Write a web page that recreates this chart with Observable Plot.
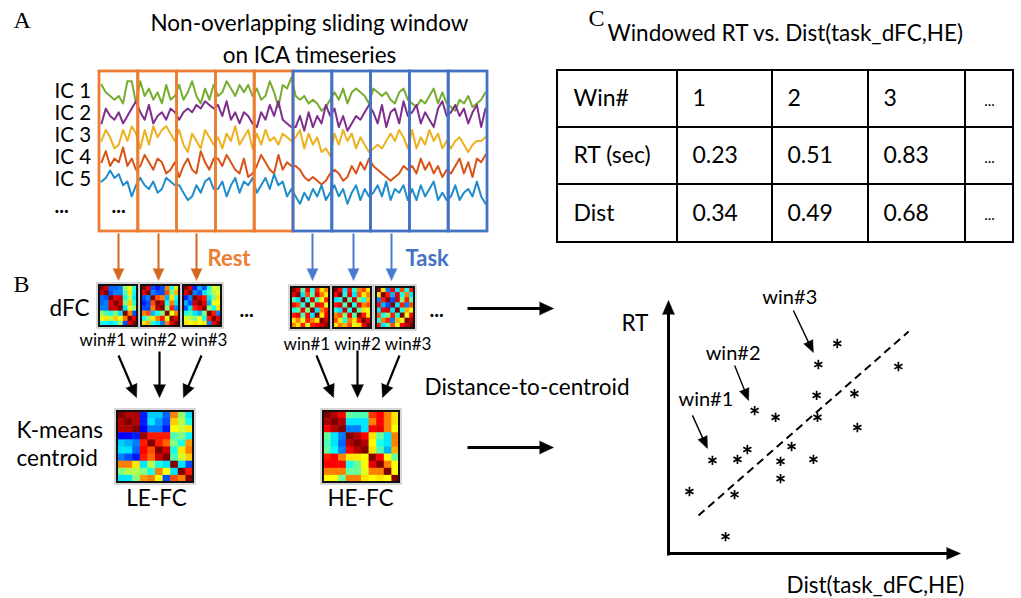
<!DOCTYPE html>
<html><head><meta charset="utf-8">
<script src="https://cdn.jsdelivr.net/npm/d3@7"></script>
<script src="https://cdn.jsdelivr.net/npm/@observablehq/plot@0.6"></script>
<style>html,body{margin:0;padding:0;background:#fff}#chart svg{display:block}</style>
</head><body><div id="chart"></div>
<script>
// ================= DATA =================
const panelLetters = ["A", "B", "C"];
const titleA = ["Non-overlapping sliding window", "on ICA timeseries"];
const icLabels = ["IC 1", "IC 2", "IC 3", "IC 4", "IC 5"];
const icColors = ["#77AC30", "#7E2F8E", "#EDB120", "#D95319", "#1F8CCB"];
// windowed IC timeseries (10 windows x 9 samples, arbitrary signal units 0-10)
const ic1 = [8,6,5,4,5,3,9,9,3, 9,5,7,4,6,3,8,4,5, 8,4,6,9,5,3,7,4,8, 5,6,9,7,5,8,6,8,5, 7,4,5,9,6,2,8,7,10,
             5,4,5,3,4,3,1,2,4, 6,4,7,3,6,7,6,5,3, 7,6,5,6,4,3,6,7,4, 3,2,4,3,5,7,3,6,3, 2,1,4,3,5,2,3,4,6];
const ic2 = [3,7,5,4,6,3,5,7,9, 6,4,8,3,5,6,4,7,6, 4,6,7,6,8,7,9,8,7, 8,5,9,4,6,3,6,5,3, 2,6,4,8,5,9,4,3,2,
             2,5,1,6,2,5,3,8,5, 7,2,5,1,3,5,4,6,8, 6,3,8,2,6,7,3,9,5, 6,8,3,6,4,2,7,9,5, 6,8,5,7,3,6,8,2,7];
const ic3 = [5,8,6,3,4,8,5,9,7, 3,8,4,9,6,8,9,7,5, 8,4,2,7,5,3,8,6,4, 6,3,7,5,9,4,6,8,3, 7,4,8,5,6,4,7,6,5,
             6,8,3,7,4,6,2,3,1, 7,4,8,5,7,3,6,4,2, 3,4,3,5,7,5,8,6,3, 8,3,6,4,8,5,7,3,5, 3,5,6,4,2,4,5,5,6];
const ic4 = [6,9,5,7,6,10,5,7,4, 5,8,6,4,7,6,3,4,6, 2,5,7,4,3,9,6,4,7, 7,5,8,6,4,3,7,2,3, 5,8,6,4,3,8,4,6,5,
             5,4,2,1,2,1,0,1,3, 4,3,1,2,5,3,6,4,7, 5,4,3,2,1,2,3,5,4, 5,3,7,4,6,3,5,2,4, 3,5,7,3,6,2,7,6,8];
const ic5 = [7,8,10,8,9,6,7,3,6, 8,6,5,7,4,5,8,7,6, 6,4,2,3,6,4,7,8,5, 5,7,3,6,8,4,7,6,8, 4,6,8,5,9,6,7,3,5,
             3,1,4,2,5,3,6,2,4, 6,3,5,1,4,6,2,5,3, 4,6,3,7,2,5,4,6,2, 5,2,6,3,5,7,2,4,2, 3,6,2,4,5,3,7,3,1];
const icSeries = [ic1, ic2, ic3, ic4, ic5];
const windowPhase = ["Rest","Rest","Rest","Rest","Rest","Task","Task","Task","Task","Task"];
const phaseNames = ["Rest", "Task"];
const winLabels = ["win#1", "win#2", "win#3"];

// dFC matrices (correlation values, -1..1)
const dfcRest1 = [[1,.85,-.55,-.55,-.5,.05,.2,-.2],[.85,1,-.6,-.5,-.5,-.1,.3,-.25],[-.55,-.6,1,.8,.85,-.2,.1,-.3],[-.55,-.5,.8,1,.85,0,.35,-.2],
                  [-.5,-.5,.85,.85,1,-.3,.2,.05],[.05,-.1,-.2,0,-.3,1,.5,-.6],[.2,.3,.1,.35,.2,.5,1,.8],[-.2,-.25,-.3,-.2,.05,-.6,.8,1]];
const dfcRest2 = [[1,.8,-.6,-.7,-.6,.5,-.2,.3],[.8,1,-.5,-.6,-.6,.6,0,.4],[-.6,-.5,1,.6,.5,-.4,.3,-.2],[-.7,-.6,.6,1,.9,-.2,.5,-.3],
                  [-.6,-.6,.5,.9,1,0,.7,-.5],[.5,.6,-.4,-.2,0,1,.2,.5],[-.2,0,.3,.5,.7,.2,1,.8],[.3,.4,-.2,-.3,-.5,.5,.8,1]];
const dfcRest3 = [[1,.8,-.7,-.4,-.6,-.2,.2,.1],[.8,1,-.5,-.6,-.3,-.1,.1,.2],[-.7,-.5,1,.85,.7,-.3,0,.3],[-.4,-.6,.85,1,.8,-.4,.2,.25],
                  [-.6,-.3,.7,.8,1,0,-.2,.3],[-.2,-.1,-.3,-.4,0,1,.7,-.5],[.2,.1,0,.2,-.2,.7,1,.8],[.3,.25,.3,.25,.3,-.5,.8,1]];
const dfcTask1 = [[1,.8,-.1,.75,-.2,.7,.3,.5],[.8,1,-.3,.6,-.1,.8,.5,.3],[-.1,-.3,1,-.2,.8,-.1,.2,.7],[.75,.6,-.2,1,0,.75,.7,.2],
                  [-.2,-.1,.8,0,1,-.3,.5,.7],[.7,.8,-.1,.75,-.3,1,.3,.75],[.3,.5,.2,.7,.5,.3,1,.85],[.5,.3,.7,.2,.7,.75,.85,1]];
const dfcTask2 = [[1,.75,-.3,.7,-.2,.5,.6,.3],[.75,1,-.2,.8,-.3,.6,.3,.5],[-.3,-.2,1,-.1,.85,0,-.2,.4],[.7,.8,-.1,1,-.2,.8,.5,.6],
                  [-.2,-.3,.85,-.2,1,-.1,.3,.2],[.5,.6,0,.8,-.1,1,.7,.3],[.6,.3,-.2,.5,.3,.7,1,.8],[.3,.5,.4,.6,.2,.3,.8,1]];
const dfcTask3 = [[1,.3,-.5,.75,-.3,.6,-.2,.7],[.3,1,.7,-.4,.8,-.2,.5,-.3],[-.5,.7,1,-.6,.85,0,.7,-.1],[.75,-.4,-.6,1,-.3,.7,-.5,.6],
                  [-.3,.8,.85,-.3,1,-.2,.4,.2],[.6,-.2,0,.7,-.2,1,.2,.75],[-.2,.5,.7,-.5,.4,.2,1,.9],[.7,-.3,-.1,.6,.2,.75,.9,1]];
// K-means centroids (10 x 10)
const leFC = [[1,.9,.9,-.7,-.35,-.35,-.55,.5,.05,-.3],[.9,1,.9,-.7,-.3,-.45,-.6,.35,.1,-.2],[.9,.9,1,-.75,-.5,-.5,-.7,.25,.15,.3],
              [-.75,-.75,-.7,.95,.7,.7,.7,-.1,0,-.25],[-.35,-.4,-.5,.7,1,.7,.55,0,-.2,.45],[-.3,-.3,-.55,.75,.6,1,.85,-.2,.3,.5],
              [-.5,-.6,-.7,.7,.55,.85,1,-.1,.15,.35],[.5,.5,.3,-.3,.1,-.2,-.3,1,-.3,-.6],[0,.1,.1,0,-.2,.5,.25,-.3,1,.7],
              [-.3,-.3,0,.45,.5,.25,-.6,.6,.5,1]];
const heFC = [[1,.9,.75,-.05,-.1,-.1,.65,.75,.5,.3],[.9,1,.9,-.3,-.3,-.3,.5,.75,.5,.3],[.75,.9,1,-.5,-.5,-.3,.75,.8,.5,.25],
              [-.05,-.3,-.5,1,.9,.75,.3,-.05,-.3,.5],[-.1,-.3,-.55,.9,1,.9,.25,-.2,-.3,.5],[-.05,-.25,-.5,.75,.9,1,.3,-.1,-.4,.4],
              [.7,.75,.5,.3,.3,.25,1,.75,.25,-.05],[.75,.75,.75,-.2,-.05,.25,.8,1,.5,.25],[.5,.5,.5,-.05,-.05,.2,.5,.5,1,.25],
              [.25,.25,-.05,.5,.5,.3,.25,.3,.25,1]];
const centroidNames = ["LE-FC", "HE-FC"];

// Table (panel C)
const titleC = "Windowed RT vs. Dist(task_dFC,HE)";
const tableRowLabels = ["Win#", "RT (sec)", "Dist"];
const tableWins = ["1", "2", "3", "..."];
const tableRT = [0.23, 0.51, 0.83];
const tableDist = [0.34, 0.49, 0.68];

// Scatter (panel C) – Dist vs RT, normalised units
const scatterDist = [0.58,0.515,0.79,0.509,0.639,0.296,0.368,0.512,0.649,0.423,0.271,0.237,0.151,0.385,0.498,0.385,0.072,0.227,0.196];
const scatterRT   = [0.83,0.747,0.739,0.625,0.632,0.565,0.538,0.538,0.498,0.423,0.411,0.372,0.368,0.364,0.372,0.296,0.245,0.233,0.067];
const fitDist = [0.103, 0.825];
const fitRT = [0.150, 0.877];
const scatterWinIndex = [12, 5, 1]; // win#1, win#2, win#3 points

// ================= LAYOUT =================
const W = 1021, H = 598;
const ORANGE = "#ED7D31", BLUE = "#4472C4", ORANGE_ARROW = "#D2691F", BLUE_ARROW = "#4A7BD0";
const FONT = "Lato", SERIF = "Liberation Serif";
const FS = 22.5;

// timeseries geometry
const tsX0 = 101, tsX1 = 485, tsK = 3.7;
const icBase = [114, 134, 159, 184, 207];
const icLabelY = [91, 113, 135, 157, 179];
const winX0 = 99, winX1 = 487, winTop = 71, winBottom = 231;
const nWin = windowPhase.length, winW = (winX1 - winX0) / nWin;
const nPts = ic1.length;
const tsRows = icSeries.map((s, k) => s.map((v, i) => ({
  x: tsX0 + i * (tsX1 - tsX0) / (nPts - 1), y: icBase[k] - v * tsK
})));
const windows = windowPhase.map((p, i) => ({phase: p, x1: winX0 + i * winW, x2: winX0 + (i + 1) * winW, y1: winTop, y2: winBottom}));

// matrices
function cellsOf(M, x0, y0, w, h) {
  const n = M.length, cw = w / n, ch = h / n, out = [];
  M.forEach((row, i) => row.forEach((v, j) => out.push({
    x1: x0 + j * cw, x2: x0 + (j + 1) * cw + (j < n - 1 ? 0.5 : 0),
    y1: y0 + i * ch, y2: y0 + (i + 1) * ch + (i < n - 1 ? 0.5 : 0), v})));
  return out;
}
const mats = [
  {M: dfcRest1, x: 99, y: 285, w: 38, h: 41}, {M: dfcRest2, x: 141, y: 285, w: 38, h: 41}, {M: dfcRest3, x: 183, y: 285, w: 38, h: 41},
  {M: dfcTask1, x: 291, y: 287, w: 38, h: 41}, {M: dfcTask2, x: 333, y: 287, w: 38, h: 41}, {M: dfcTask3, x: 376, y: 287, w: 38, h: 41},
  {M: leFC, x: 117, y: 411, w: 76, h: 71}, {M: heFC, x: 323, y: 411, w: 76, h: 71}
];
const cells = mats.flatMap(m => cellsOf(m.M, m.x, m.y, m.w, m.h));
const frames = mats.map(m => ({x1: m.x, x2: m.x + m.w, y1: m.y, y2: m.y + m.h}));
const framesOuter = frames.map(f => ({x1: f.x1 - 2, x2: f.x2 + 2, y1: f.y1 - 2, y2: f.y2 + 2}));

// arrows
function arrow(x1, y1, x2, y2) { return {x1, y1, x2, y2}; }
function arrowMarks(list, color, sw, len, half) {
  const rows = list.map(a => {
    const dx = a.x2 - a.x1, dy = a.y2 - a.y1, L = Math.hypot(dx, dy);
    return {...a, bx: a.x2 - dx / L * (len - 1), by: a.y2 - dy / L * (len - 1), rot: Math.atan2(dx, -dy) * 180 / Math.PI};
  });
  return [
    Plot.link(rows, {x1: "x1", y1: "y1", x2: "bx", y2: "by", stroke: color, strokeWidth: sw}),
    Plot.vector(rows, {x: "x2", y: "y2", rotate: "rot", length: len, r: half, shape: "spike", anchor: "end", fill: color, stroke: color, strokeWidth: 0.5})
  ];
}
const restArrowX = [118, 158, 196], taskArrowX = [312, 353, 391];
const restArrows = restArrowX.map(x => arrow(x, 233, x, 280));
const taskArrows = taskArrowX.map(x => arrow(x, 233, x, 280));
const blackArrows = [
  arrow(118, 355, 136, 397), arrow(159, 351, 159, 397), arrow(201, 355, 183, 397),
  arrow(316, 355, 333, 397), arrow(357, 350, 357, 397), arrow(399, 355, 382, 397)
];
const rightArrows = [arrow(467, 308, 553, 308), arrow(467, 447, 553, 447)];

// scatter geometry
const sx = d3.scaleLinear([0, 1], [668, 959]);
const sy = d3.scaleLinear([0, 1], [553, 300]);
const pts = scatterDist.map((d, i) => ({x: sx(d), y: sy(scatterRT[i])}));
const axisArrows = [arrow(668, 555, 668, 300), arrow(666.5, 553, 960, 553)];
// [tip dx, tip dy, tail dx, tail dy (from tip), label dx, label dy] relative to the point
const labelOffsets = [[-5, -12, -15, -33, -34, -61], [-6, -10, -14, -35, -49, -57], [-5, -12, -20, -42, -56, -67]];
const winArrows = scatterWinIndex.map((idx, k) => {
  const p = pts[idx], o = labelOffsets[k];
  return arrow(p.x + o[0] + o[2], p.y + o[1] + o[3], p.x + o[0], p.y + o[1]);
});
const winLabelPos = scatterWinIndex.map((idx, k) => {
  const p = pts[idx], o = labelOffsets[k];
  return {x: p.x + o[4], y: p.y + o[5], t: winLabels[k]};
});

// table geometry
const colX = [557, 677, 772, 868, 965, 1013];
const rowY = [70, 127, 184, 242];
const tableCells = [];
for (let r = 0; r < 3; r++) for (let c = 0; c < 5; c++) tableCells.push({x1: colX[c], x2: colX[c + 1], y1: rowY[r], y2: rowY[r + 1]});
const tableText = [];
tableRowLabels.forEach((t, r) => tableText.push({x: colX[0] + 16, y: (rowY[r] + rowY[r + 1]) / 2, t}));
const rowsVals = [tableWins.slice(0, 3), tableRT.map(v => v.toFixed(2)), tableDist.map(v => v.toFixed(2))];
rowsVals.forEach((vals, r) => vals.forEach((t, c) => tableText.push({x: colX[c + 1] + 15, y: (rowY[r] + rowY[r + 1]) / 2, t})));
const tableDots = [0, 1, 2].map(r => ({x: (colX[4] + colX[5]) / 2, y: (rowY[r] + rowY[r + 1]) / 2 + 2, t: tableWins[3]}));

// text blocks
const T = (x, y, t, o = {}) => ({x, y, t, ...o});
const textsLeft = [
  T(49, 308, "dFC"), T(16, 430, "K-means"), T(16, 458, "centroid"),
  T(424, 387, "Distance-to-centroid"), T(607, 33, titleC), T(621, 323, "RT"), T(786, 585, "Dist(task_dFC,HE)")
];
const icText = icLabels.map((t, i) => T(54, icLabelY[i], t));
const textsCenter = [
  T(309, 23, titleA[0]), T(309, 55, titleA[1]),
  T(156, 498, centroidNames[0]), T(360, 498, centroidNames[1])
];
const dots = [T(61, 206, "..."), T(118, 206, "..."), T(246, 310, "..."), T(436, 310, "...")];
const phaseText = [T(207, 258, phaseNames[0], {c: ORANGE}), T(405, 258, phaseNames[1], {c: BLUE})];
const winTexts = [T(153, 340, winLabels.join(" ")), T(357, 344, winLabels.join(" "))];
const letterPos = [T(13, 20, panelLetters[0]), T(13, 284, panelLetters[1]), T(588, 18, panelLetters[2])];

// ================= PLOT =================
const chart = Plot.plot({
  width: W, height: H, margin: 0,
  x: {domain: [0, W], range: [0, W], axis: null},
  y: {domain: [0, H], range: [0, H], axis: null},
  color: {type: "linear", domain: [-1, -0.75, -0.25, 0.25, 0.75, 1],
          range: ["#00008F", "#0000FF", "#00FFFF", "#FFFF00", "#FF0000", "#800000"]},
  style: {fontFamily: FONT, background: "#fff"},
  marks: [
    // timeseries
    ...tsRows.map((rows, k) => Plot.line(rows, {x: "x", y: "y", stroke: icColors[k], strokeWidth: 2, curve: "linear"})),
    // sliding windows
    Plot.rect(windows.filter(d => d.phase === "Rest"), {x1: "x1", x2: "x2", y1: "y1", y2: "y2", fill: "none", stroke: ORANGE, strokeWidth: 2.8}),
    Plot.rect(windows.filter(d => d.phase === "Task"), {x1: "x1", x2: "x2", y1: "y1", y2: "y2", fill: "none", stroke: BLUE, strokeWidth: 2.8}),
    // arrows
    ...arrowMarks(restArrows, ORANGE_ARROW, 2, 12, 5.5),
    ...arrowMarks(taskArrows, BLUE_ARROW, 2, 12, 5.5),
    ...arrowMarks(blackArrows, "#000", 2.2, 13, 6),
    ...arrowMarks(rightArrows, "#000", 3, 14, 6.5),
    // matrices
    Plot.rect(framesOuter, {x1: "x1", x2: "x2", y1: "y1", y2: "y2", fill: "#fff", stroke: "#b0b0b0", strokeWidth: 1}),
    Plot.rect(cells, {x1: "x1", x2: "x2", y1: "y1", y2: "y2", fill: "v"}),
    Plot.rect(frames, {x1: "x1", x2: "x2", y1: "y1", y2: "y2", fill: "none", stroke: "#111", strokeWidth: 2}),
    // table
    Plot.rect(tableCells, {x1: "x1", x2: "x2", y1: "y1", y2: "y2", fill: "none", stroke: "#000", strokeWidth: 2}),
    Plot.text(tableText, {x: "x", y: "y", text: "t", textAnchor: "start", fontSize: 23, fontFamily: FONT}),
    Plot.text(tableDots, {x: "x", y: "y", text: "t", fontSize: 15, fontFamily: FONT}),
    // scatter
    ...arrowMarks(axisArrows, "#000", 3, 14, 6),
    Plot.link([{x1: sx(fitDist[0]), y1: sy(fitRT[0]), x2: sx(fitDist[1]), y2: sy(fitRT[1])}],
      {x1: "x1", y1: "y1", x2: "x2", y2: "y2", stroke: "#000", strokeWidth: 2, strokeDasharray: "8,5"}),
    Plot.dot(pts, {x: "x", y: "y", symbol: "asterisk", r: 4.4, stroke: "#000", strokeWidth: 1.7}),
    ...arrowMarks(winArrows, "#000", 1.4, 12, 5),
    Plot.text(winLabelPos, {x: "x", y: "y", text: "t", textAnchor: "start", fontSize: 20, fontFamily: FONT}),
    // text
    Plot.text(icText, {x: "x", y: "y", text: "t", textAnchor: "start", fontSize: 20.5, fontFamily: FONT}),
    Plot.text(textsLeft, {x: "x", y: "y", text: "t", textAnchor: "start", fontSize: FS, fontFamily: FONT}),
    Plot.text(textsCenter, {x: "x", y: "y", text: "t", fontSize: FS, fontFamily: FONT}),
    Plot.text(dots, {x: "x", y: "y", text: "t", fontSize: 20, fontWeight: "bold", fontFamily: FONT}),
    Plot.text(phaseText, {x: "x", y: "y", text: "t", fill: d => d.c, textAnchor: "start", fontSize: 22, fontWeight: "bold", fontFamily: FONT}),
    Plot.text(winTexts, {x: "x", y: "y", text: "t", fontSize: 17, fontFamily: FONT}),
    Plot.text(letterPos, {x: "x", y: "y", text: "t", textAnchor: "start", fontSize: 24, fontFamily: SERIF})
  ]
});
document.getElementById("chart").append(chart);
</script></body></html>
